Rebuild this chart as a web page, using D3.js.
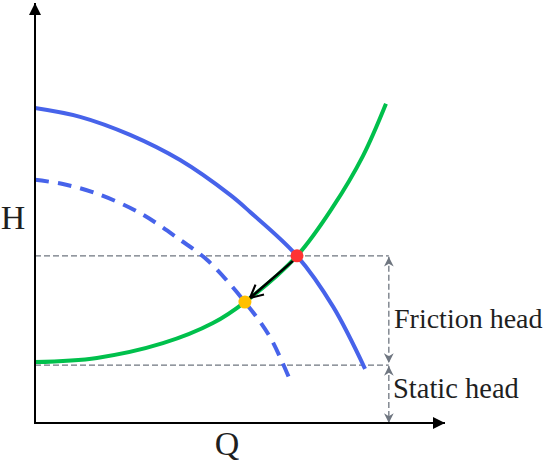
<!DOCTYPE html>
<html>
<head>
<meta charset="utf-8">
<script src="https://cdn.jsdelivr.net/npm/d3@7"></script>
<style>
  body { margin: 0; background: #fff; }
  text { font-family: "Liberation Serif", "Times New Roman", serif; fill: #1f1f1f; }
</style>
</head>
<body>
<div id="chart"></div>
<script>
const width = 549, height = 467;

// pump curve (solid blue)
const pumpQ = [0, 11, 23.2, 35.4, 47.6, 52.4, 63.9, 72.7, 80.5];
const pumpH = [75, 72.9, 68.6, 62.6, 54.3, 50.3, 39.8, 27.7, 12.9];
// reduced pump curve (dashed blue)
const pump2Q = [0, 6.8, 15.1, 25.6, 35.4, 42, 51.2, 57.3, 62.2];
const pump2H = [57.9, 56.9, 54.6, 50, 43.6, 38.8, 28.8, 20.5, 10.2];
// system curve (green)
const sysQ = [0, 15.1, 31.2, 43.4, 51.2, 63.9, 72.7, 80, 85.6];
const sysH = [14.5, 15.5, 19, 23.8, 28.8, 39.8, 51.5, 63.6, 76];
// operating points: original (red), new (yellow)
const opQ = [63.9, 51.2];
const opH = [39.8, 28.8];
const opColors = ["#ff3333", "#ffc000"];
// head levels
const staticHead = 13.8, totalHead = 39.8, guideQ = 86.3;
const labels = ["Friction head", "Static head"];

const x = d3.scaleLinear().domain([0, 100]).range([35, 445]);
const y = d3.scaleLinear().domain([0, 100]).range([423, 3]);

const svg = d3.select("#chart").append("svg")
  .attr("width", width).attr("height", height);

const defs = svg.append("defs");
defs.append("marker").attr("id", "ax").attr("viewBox", "0 0 10 10")
  .attr("refX", 10).attr("refY", 5).attr("markerWidth", 6).attr("markerHeight", 6)
  .attr("markerUnits", "strokeWidth").attr("orient", "auto")
  .append("path").attr("d", "M0,0L10,5L0,10z").attr("fill", "#000");
defs.append("marker").attr("id", "gr").attr("viewBox", "0 0 10 10")
  .attr("refX", 10).attr("refY", 5).attr("markerWidth", 7.5).attr("markerHeight", 7.5)
  .attr("markerUnits", "strokeWidth").attr("orient", "auto-start-reverse")
  .append("path").attr("d", "M0,0L10,5L0,10L3,5z").attr("fill", "#6f7680");
defs.append("marker").attr("id", "bk").attr("viewBox", "0 0 10 10")
  .attr("refX", 9).attr("refY", 5).attr("markerWidth", 6.5).attr("markerHeight", 6.5)
  .attr("markerUnits", "strokeWidth").attr("orient", "auto")
  .append("path").attr("d", "M1,1L9,5L1,9").attr("fill", "none")
  .attr("stroke", "#000").attr("stroke-width", 1.3);

//--------------------------- guides
const guides = svg.append("g").attr("stroke", "#6f7680").attr("stroke-width", 1.3)
  .attr("stroke-dasharray", "6,3").attr("fill", "none");
[totalHead, staticHead].forEach(h => {
  guides.append("line").attr("x1", x(0)).attr("x2", x(guideQ))
    .attr("y1", y(h)).attr("y2", y(h));
});
guides.append("line").attr("x1", x(guideQ)).attr("x2", x(guideQ))
  .attr("y1", y(totalHead) + 1).attr("y2", y(staticHead) - 2)
  .attr("marker-start", "url(#gr)").attr("marker-end", "url(#gr)");
guides.append("line").attr("x1", x(guideQ)).attr("x2", x(guideQ))
  .attr("y1", y(staticHead) + 1).attr("y2", y(0))
  .attr("marker-start", "url(#gr)").attr("marker-end", "url(#gr)");

//--------------------------- curves
const line = d3.line().curve(d3.curveCatmullRom.alpha(0.5))
  .x(d => x(d[0])).y(d => y(d[1]));

svg.append("path").datum(d3.zip(pumpQ, pumpH))
  .attr("d", line).attr("fill", "none").attr("stroke", "#4763ea").attr("stroke-width", 4);
svg.append("path").datum(d3.zip(pump2Q, pump2H))
  .attr("d", line).attr("fill", "none").attr("stroke", "#4763ea").attr("stroke-width", 4)
  .attr("stroke-dasharray", "14,9");
svg.append("path").datum(d3.zip(sysQ, sysH))
  .attr("d", line).attr("fill", "none").attr("stroke", "#00c04c").attr("stroke-width", 4);

//--------------------------- axes
svg.append("line").attr("x1", x(0)).attr("x2", x(0)).attr("y1", y(0) + 1).attr("y2", y(100))
  .attr("stroke", "#000").attr("stroke-width", 2).attr("marker-end", "url(#ax)");
svg.append("line").attr("x1", x(0) - 1).attr("x2", x(100)).attr("y1", y(0)).attr("y2", y(0))
  .attr("stroke", "#000").attr("stroke-width", 2).attr("marker-end", "url(#ax)");

//--------------------------- shift arrow + points
svg.append("line")
  .attr("x1", x(opQ[0]) - 4).attr("y1", y(opH[0]) + 5)
  .attr("x2", x(opQ[1]) + 5).attr("y2", y(opH[1]) - 4)
  .attr("stroke", "#000").attr("stroke-width", 2.5).attr("marker-end", "url(#bk)");

svg.selectAll("circle.op").data(d3.zip(opQ, opH)).join("circle")
  .attr("class", "op")
  .attr("cx", d => x(d[0])).attr("cy", d => y(d[1])).attr("r", 6.5)
  .attr("fill", (d, i) => opColors[i]);

//--------------------------- labels
svg.append("text").attr("x", 13).attr("y", 229).attr("text-anchor", "middle")
  .attr("font-size", 34).text("H");
svg.append("text").attr("x", 227).attr("y", 455).attr("text-anchor", "middle")
  .attr("font-size", 34).text("Q");
svg.append("text").attr("x", 394).attr("y", 328).attr("font-size", 28).text(labels[0]);
svg.append("text").attr("x", 393).attr("y", 398).attr("font-size", 28.5).text(labels[1]);
</script>
</body>
</html>
